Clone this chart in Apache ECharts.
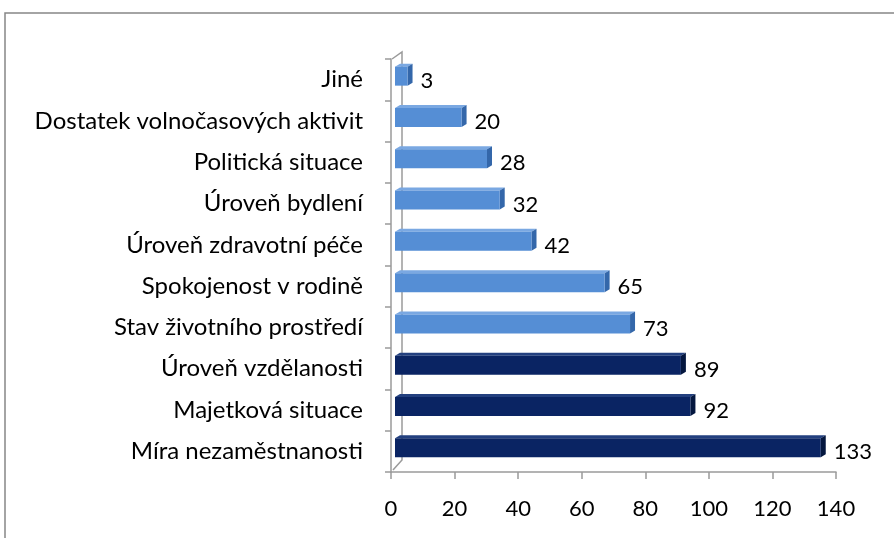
<!DOCTYPE html>
<html>
<head>
<meta charset="utf-8">
<script src="https://cdn.jsdelivr.net/npm/echarts@6/dist/echarts.min.js"></script>
<style>html,body{margin:0;padding:0;background:#fff}#c{width:894px;height:538px}</style>
</head>
<body>
<div id="c"></div>
<script>
// Categories listed from top to bottom
const categories = ["Jiné", "Dostatek volnočasových aktivit", "Politická situace", "Úroveň bydlení", "Úroveň zdravotní péče", "Spokojenost v rodině", "Stav životního prostředí", "Úroveň vzdělanosti", "Majetková situace", "Míra nezaměstnanosti"];
const values = [3, 20, 28, 32, 42, 65, 73, 89, 92, 133];
const highlighted = [false, false, false, false, false, false, false, true, true, true];
const xTicks = [0, 20, 40, 60, 80, 100, 120, 140];

const FONT = "Lato";
const light = {face: "#558ED5", side: "#3467AA", top: "#7AA8E2"};
const dark = {face: "#0A2463", side: "#04173F", top: "#23407F"};

const chart = echarts.init(document.getElementById('c'), null, {renderer: 'canvas'});

const data = values.map((v, i) => [v, i, highlighted[i] ? 1 : 0]);

function renderItem(params, api) {
  const v = api.value(0), idx = api.value(1), hi = api.value(2);
  const c = hi ? dark : light;
  const p0 = api.coord([0, idx]);
  const p1 = api.coord([v, idx]);
  const h = 19;
  const cy = p0[1] - 3.5;
  const x0 = p0[0] + 4;
  const x1 = p1[0] + 7;
  const y0 = cy - h / 2;
  const dx = 5, dy = 3;
  return {
    type: 'group',
    children: [
      {type: 'polygon', shape: {points: [[x0, y0], [x0 + dx, y0 - dy], [x1 + dx, y0 - dy], [x1, y0]]}, style: {fill: c.top}},
      {type: 'polygon', shape: {points: [[x1, y0], [x1 + dx, y0 - dy], [x1 + dx, y0 + h - dy], [x1, y0 + h]]}, style: {fill: c.side}},
      {type: 'rect', shape: {x: x0, y: y0, width: x1 - x0, height: h}, style: {fill: c.face}},
      {type: 'text', style: {text: String(v), x: x1 + dx + 8, y: p0[1] + 1, verticalAlign: 'middle', align: 'left', font: '22px ' + FONT, fill: '#000'}}
    ]
  };
}

const option = {
  backgroundColor: '#fff',
  animation: false,
  grid: {left: 391, right: 58, top: 59, bottom: 66, containLabel: false},
  xAxis: {
    type: 'value', min: xTicks[0], max: xTicks[xTicks.length - 1], interval: 20,
    axisLine: {show: true, lineStyle: {color: '#9a9a9a', width: 1.5}},
    axisTick: {show: true, length: 7, lineStyle: {color: '#9a9a9a', width: 1.5}},
    splitLine: {show: false},
    axisLabel: {color: '#000', fontFamily: FONT, fontSize: 22, margin: 26}
  },
  yAxis: {
    type: 'category', data: categories, inverse: true,
    axisLine: {show: true, lineStyle: {color: '#9a9a9a', width: 1.5}},
    axisTick: {show: true, length: 6, lineStyle: {color: '#9a9a9a', width: 1.5}},
    axisLabel: {color: '#000', fontFamily: FONT, fontSize: 24, margin: 28}
  },
  graphic: [
    {type: 'rect', shape: {x: 5, y: 13, width: 1000, height: 1000}, style: {fill: 'none', stroke: '#868686', lineWidth: 1.5}, z: -1},
    {type: 'polyline', shape: {points: [[392, 59], [402, 52], [402, 460], [393, 470]]}, style: {stroke: '#9a9a9a', lineWidth: 1.5, fill: 'none'}, z: -1}
  ],
  series: [{
    type: 'custom',
    renderItem: renderItem,
    data: data,
    encode: {x: 0, y: 1},
    clip: false
  }]
};
chart.setOption(option);
</script>
</body>
</html>
